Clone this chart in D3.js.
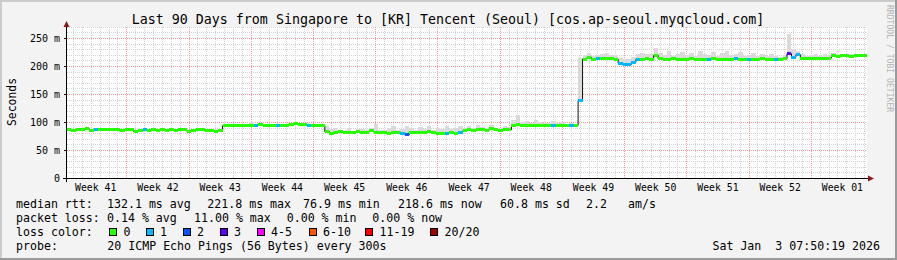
<!DOCTYPE html>
<html>
<head>
<meta charset="utf-8">
<script src="https://cdn.jsdelivr.net/npm/d3@7"></script>
<style>
  body { margin: 0; background: #f3f3f3; }
  svg { display: block; }
  text { font-family: "DejaVu Sans Mono", monospace; }
</style>
</head>
<body>
<svg id="chart"></svg>
<script>
// 90 days, one value per 12 hour bin
const startTime = Date.UTC(2025, 9, 5, 7, 50, 19)
const endTime = Date.UTC(2026, 0, 3, 7, 50, 19)
const binMs = 12 * 3600 * 1000

const title = "Last 90 Days from Singapore to [KR] Tencent (Seoul) [cos.ap-seoul.myqcloud.com]"

// median rtt in ms
const median = [
    86, 84, 87, 86, 88, 85, 87, 86, 86, 87,
    87, 86, 85, 87, 86, 83, 85, 86, 84, 86,
    85, 87, 84, 86, 85, 87, 86, 83, 85, 87,
    86, 84, 85, 83, 84,
    93, 93, 94, 93, 94, 94, 93, 94, 95, 94, 93, 94, 94, 93, 94,
    95, 97, 96, 95, 94, 94, 94, 94,
    83, 80, 82, 83, 82, 81, 82, 83, 81, 82, 84, 82, 81, 82, 80, 81,
    82, 79, 77, 82, 82, 81, 82, 83, 81, 80,
    79, 80, 81, 80, 82, 84, 86, 85, 87, 86, 85, 88, 86, 85, 87, 86,
    94, 95, 94, 94, 93, 93, 93, 94, 93, 93, 93, 93, 93, 93, 94,
    138,
    212, 215, 212, 214, 213, 213, 213, 212,
    205, 202, 203, 207,
    212, 212, 213, 212,
    219,
    213, 212, 212, 213, 212, 212, 212, 213, 212, 212, 212, 212, 213, 212, 212,
    212, 212, 213, 212, 212, 212, 212, 212, 213, 212, 212, 212, 212, 213,
    222, 216, 220,
    214, 214, 214, 213, 214, 214, 214,
    218, 217, 218, 218, 217, 218, 219, 218
]

// highest ping of the smoke in ms
const smokeTop = [
    88, 86, 88, 87, 89, 87, 88, 87, 87, 88,
    88, 87, 86, 88, 87, 85, 86, 87, 86, 87,
    86, 88, 86, 87, 86, 88, 87, 85, 86, 88,
    87, 86, 86, 85, 86,
    94, 94, 95, 94, 95, 95, 100, 95, 96, 95, 94, 95, 95, 94, 95,
    96, 98, 97, 96, 95, 95, 95, 95,
    93, 88, 90, 86, 85, 89, 84, 87, 88, 85, 90, 97, 85, 86, 89, 92,
    86, 88, 93, 89, 86, 91, 88, 92, 86, 89,
    87, 92, 88, 90, 92, 89, 93, 90, 95, 91, 89, 94, 90, 88, 93, 91,
    104, 112, 100, 101, 99, 103, 100, 99, 98, 101, 99, 100, 97, 98, 97,
    214,
    219, 224, 218, 220, 222, 224, 220, 219,
    214, 212, 213, 216,
    221, 224, 222, 221,
    232,
    223, 219, 226, 218, 222, 225, 220, 223, 218, 227, 222, 219, 225, 218, 223,
    226, 219, 222, 225, 218, 220, 224, 217, 222, 218, 221, 217, 216, 219,
    258, 230, 227,
    221, 218, 219, 222, 217, 221, 219,
    224, 221, 220, 222, 221, 220, 221, 220
]

// lost pings out of 20
const loss = [
    0, 0, 0, 0, 0, 0, 1, 0, 0, 0,
    0, 0, 0, 0, 0, 0, 0, 1, 0, 0,
    0, 0, 0, 0, 0, 0, 0, 0, 0, 0,
    0, 0, 0, 0, 0,
    0, 0, 0, 0, 0, 0, 0, 1, 0, 0, 0, 0, 1, 0, 0,
    0, 0, 0, 0, 1, 0, 0, 0,
    0, 0, 0, 0, 0, 0, 0, 0, 0, 0, 0, 0, 0, 0, 0, 0,
    0, 1, 2, 0, 0, 0, 0, 0, 0, 0,
    0, 1, 0, 0, 1, 0, 0, 0, 0, 0, 0, 0, 0, 0, 0, 0,
    0, 0, 0, 0, 0, 0, 0, 0, 0, 1, 0, 0, 0, 1, 0,
    1,
    0, 0, 0, 1, 0, 0, 0, 0,
    1, 1, 1, 1,
    1, 0, 0, 0,
    0,
    0, 0, 0, 0, 0, 0, 0, 0, 0, 0, 0, 1, 0, 0, 0,
    0, 0, 1, 0, 0, 1, 0, 0, 0, 0, 0, 1, 0, 0,
    3, 1, 1,
    0, 0, 0, 0, 0, 0, 0,
    0, 0, 0, 0, 0, 0, 0, 0
]

const yTicks = [0, 50, 100, 150, 200, 250]
const yLabels = ["0", "50 m", "100 m", "150 m", "200 m", "250 m"]
const weekLabels = ["Week 41", "Week 42", "Week 43", "Week 44", "Week 45", "Week 46", "Week 47",
    "Week 48", "Week 49", "Week 50", "Week 51", "Week 52", "Week 01"]

const medianStats = ["132.1 ms avg", "221.8 ms max", "76.9 ms min", "218.6 ms now", "60.8 ms sd", "2.2", "am/s"]
const lossStats = ["0.14 % avg", "11.00 % max", "0.00 % min", "0.00 % now"]
const lossLabels = ["0", "1", "2", "3", "4-5", "6-10", "11-19", "20/20"]
const lossColors = ["#26ff00", "#00b8ff", "#0059ff", "#5e00ff", "#ff00fe", "#ff5500", "#ff0000", "#a00000"]
const probeText = "20 ICMP Echo Pings (56 Bytes) every 300s"
const stamp = "Sat Jan  3 07:50:19 2026"

let width = 897
let height = 260

const svg = d3.select("#chart")
    .attr("width", width)
    .attr("height", height)
    .attr("viewBox", [0, 0, width, height])

// frame
svg.append("rect").attr("width", width).attr("height", height).attr("fill", "#f3f3f3")
svg.append("path").attr("d", `M1,${height} V1 H${width}`).attr("fill", "none")
    .attr("stroke", "#cbcbcb").attr("stroke-width", 2)
svg.append("path").attr("d", `M0,${height - 1} H${width - 1} V0`).attr("fill", "none")
    .attr("stroke", "#9a9a9a").attr("stroke-width", 2)

const x = d3.scaleUtc().domain([startTime, endTime]).range([67, 867])
const y = d3.scaleLinear().domain([0, 270]).range([178, 26.8])

svg.append("rect")
    .attr("x", 67).attr("y", 27)
    .attr("width", 800).attr("height", 151)
    .attr("fill", "#ffffff")

// grid
const grid = svg.append("g").attr("shape-rendering", "crispEdges").attr("stroke-dasharray", "1,1")
const sundays = d3.utcSunday.range(d3.utcSunday.ceil(startTime), endTime)
grid.selectAll("line.vmin")
    .data(d3.utcDay.range(d3.utcDay.ceil(startTime), endTime))
    .join("line")
    .attr("x1", d => Math.round(x(d)) + 0.5).attr("x2", d => Math.round(x(d)) + 0.5)
    .attr("y1", 27).attr("y2", 178)
    .attr("stroke", "#d2d2d2")
grid.selectAll("line.hmin")
    .data(d3.range(10, 271, 10))
    .join("line")
    .attr("x1", 67).attr("x2", 867)
    .attr("y1", d => Math.round(y(d)) + 0.5).attr("y2", d => Math.round(y(d)) + 0.5)
    .attr("stroke", "#d2d2d2")
grid.append("g").selectAll("line")
    .data(sundays)
    .join("line")
    .attr("x1", d => Math.round(x(d)) + 0.5).attr("x2", d => Math.round(x(d)) + 0.5)
    .attr("y1", 27).attr("y2", 178)
    .attr("stroke", "#f29a9a")
grid.append("g").selectAll("line")
    .data(yTicks.slice(1))
    .join("line")
    .attr("x1", 67).attr("x2", 867)
    .attr("y1", d => Math.round(y(d)) + 0.5).attr("y2", d => Math.round(y(d)) + 0.5)
    .attr("stroke", "#f29a9a")

const bins = median.map((m, i) => ({
    t0: startTime + i * binMs,
    t1: startTime + (i + 1) * binMs,
    m: m,
    top: smokeTop[i],
    loss: loss[i]
}))

// smoke
svg.append("g").attr("shape-rendering", "crispEdges")
    .selectAll("rect")
    .data(bins)
    .join("rect")
    .attr("x", d => x(d.t0))
    .attr("width", d => x(d.t1) - x(d.t0))
    .attr("y", d => y(d.top))
    .attr("height", d => Math.max(0, y(d.m) - y(d.top)))
    .attr("fill", "#dadada")

// median line
const pts = bins.map(d => [d.t0, d.m])
pts.push([endTime, median[median.length - 1]])
svg.append("path")
    .attr("d", d3.line().x(d => x(d[0])).y(d => y(d[1])).curve(d3.curveStepAfter)(pts))
    .attr("fill", "none")
    .attr("stroke", "#111")
    .attr("stroke-width", 1)

let lossIndex = function (l) {
    if (l <= 3) return l
    if (l <= 5) return 4
    if (l <= 10) return 5
    if (l <= 19) return 6
    return 7
}

svg.append("g").attr("shape-rendering", "crispEdges")
    .selectAll("rect")
    .data(bins)
    .join("rect")
    .attr("x", d => x(d.t0))
    .attr("width", d => x(d.t1) - x(d.t0))
    .attr("y", d => y(d.m) - 1.5)
    .attr("height", 3)
    .attr("fill", d => lossColors[lossIndex(d.loss)])

// axes
const yAxis = svg.append("g")
    .attr("transform", "translate(67,0)")
    .call(d3.axisLeft(y).tickValues(yTicks).tickFormat((d, i) => yLabels[i]).tickSize(3).tickPadding(4))
yAxis.select(".domain").remove()
yAxis.selectAll("line").attr("stroke", "#000")
yAxis.selectAll("text").attr("font-family", "DejaVu Sans Mono").attr("font-size", 10).attr("fill", "#000")

const weekCenters = sundays.map(d => d3.utcHour.offset(d, -84))
weekCenters.push(d3.utcHour.offset(sundays[sundays.length - 1], 84))
const xAxis = svg.append("g")
    .attr("transform", "translate(0,178)")
    .call(d3.axisBottom(x).tickValues(weekCenters).tickFormat((d, i) => weekLabels[i]).tickSize(0).tickPadding(6))
xAxis.select(".domain").remove()
xAxis.selectAll("text").attr("font-family", "DejaVu Sans Mono").attr("font-size", 9.8).attr("fill", "#000")

svg.append("line").attr("x1", 63).attr("x2", 868).attr("y1", 178.5).attr("y2", 178.5)
    .attr("stroke", "#000")
svg.append("line").attr("x1", 66.5).attr("x2", 66.5).attr("y1", 182).attr("y2", 26)
    .attr("stroke", "#000")
svg.append("path").attr("d", "M868,175.5 L874,178.5 L868,181.5 Z").attr("fill", "#8b1a1a")
svg.append("path").attr("d", "M63.5,27 L66.5,21 L69.5,27 Z").attr("fill", "#8b1a1a")

// texts
svg.append("text")
    .attr("x", 448).attr("y", 24)
    .attr("text-anchor", "middle")
    .attr("font-size", 13.3)
    .text(title)

svg.append("text")
    .attr("transform", "translate(15.5,102) rotate(-90)")
    .attr("text-anchor", "middle")
    .attr("font-size", 11.4)
    .text("Seconds")

svg.append("text")
    .attr("transform", "translate(887,5) rotate(90)")
    .attr("font-size", 8.1)
    .attr("fill", "#b4b4b4")
    .text("RRDTOOL / TOBI OETIKER")

const legend = svg.append("g").attr("font-size", 11.6).attr("fill", "#000")
const rows = [207.5, 221.5, 235.5, 249.5]
const medianX = [107, 207.3, 303, 398, 500, 586, 628]
const lossX = [107, 194, 286.7, 372.3]
const boxX = [109.5, 146, 183, 220, 257, 309, 365.5, 430.5]

legend.append("text").attr("x", 16).attr("y", rows[0]).text("median rtt:")
legend.selectAll("text.ms").data(medianStats).join("text")
    .attr("class", "ms")
    .attr("x", (d, i) => medianX[i]).attr("y", rows[0]).text(d => d)

legend.append("text").attr("x", 16).attr("y", rows[1]).text("packet loss:")
legend.selectAll("text.pl").data(lossStats).join("text")
    .attr("class", "pl")
    .attr("x", (d, i) => lossX[i]).attr("y", rows[1]).text(d => d)

legend.append("text").attr("x", 16).attr("y", rows[2]).text("loss color:")
const items = legend.selectAll("g.item").data(lossLabels).join("g").attr("class", "item")
items.append("rect")
    .attr("x", (d, i) => boxX[i]).attr("y", 228.5)
    .attr("width", 7).attr("height", 7)
    .attr("fill", (d, i) => lossColors[i])
    .attr("stroke", "#000")
    .attr("shape-rendering", "crispEdges")
items.append("text")
    .attr("x", (d, i) => boxX[i] + 14)
    .attr("y", rows[2]).text(d => d)

legend.append("text").attr("x", 16).attr("y", rows[3]).text("probe:")
legend.append("text").attr("x", 107.3).attr("y", rows[3]).text(probeText)
legend.append("text").attr("x", 880).attr("y", rows[3]).attr("text-anchor", "end")
    .attr("xml:space", "preserve").style("white-space", "pre").text(stamp)
</script>
</body>
</html>
